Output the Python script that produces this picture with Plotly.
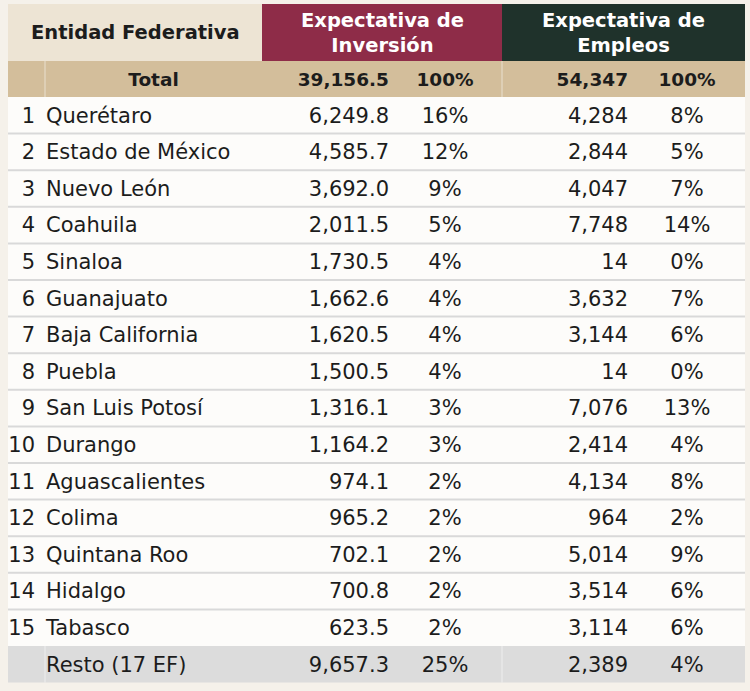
import plotly.graph_objects as go

# ---------------- data ----------------
ranks = list(range(1, 16))
states = ["Querétaro", "Estado de México", "Nuevo León", "Coahuila", "Sinaloa",
          "Guanajuato", "Baja California", "Puebla", "San Luis Potosí", "Durango",
          "Aguascalientes", "Colima", "Quintana Roo", "Hidalgo", "Tabasco"]
inversion = [6249.8, 4585.7, 3692.0, 2011.5, 1730.5, 1662.6, 1620.5, 1500.5,
             1316.1, 1164.2, 974.1, 965.2, 702.1, 700.8, 623.5]
inv_pct = [16, 12, 9, 5, 4, 4, 4, 4, 3, 3, 2, 2, 2, 2, 2]
empleos = [4284, 2844, 4047, 7748, 14, 3632, 3144, 14, 7076, 2414,
           4134, 964, 5014, 3514, 3114]
emp_pct = [8, 5, 7, 14, 0, 7, 6, 0, 13, 4, 8, 2, 9, 6, 6]

total_label = "Total"
total_inv, total_inv_pct = 39156.5, 100
total_emp, total_emp_pct = 54347, 100
resto_label = "Resto (17 EF)"
resto_inv, resto_inv_pct = 9657.3, 25
resto_emp, resto_emp_pct = 2389, 4

header_entity = "Entidad Federativa"
header_inv = "Expectativa de<br>Inversión"
header_emp = "Expectativa de<br>Empleos"

# ---------------- layout constants ----------------
W, H = 750, 691
X0, X_SPLIT, X_INV, X_EMP, X1 = 8, 45, 262, 502, 745
Y_HEAD0, Y_TOT0, Y_ROW0 = 4, 61, 97
ROW_H = 36.6
TXT_DY = 2.0
X_RANK_R, X_NAME_L = 35, 46
X_INV_R, X_INVP_C = 389, 445
X_EMP_R, X_EMPP_C = 628, 687

FONT = "DejaVu Sans"
FS = 21
TFS = 18.5
HFS = 19.5
TXT = "#1c1c1c"

C_HEAD = "#ede4d4"
C_TOTAL = "#d3be9b"
C_INV = "#8e2c48"
C_EMP = "#1f322b"
C_RESTO = "#dcdcdc"
C_ROW = "rgba(255,255,255,0.75)"
C_LINE = "#d9d9d9"

n = len(states)
row_center = [Y_ROW0 + ROW_H * (i + 0.5) + TXT_DY for i in range(n)]
resto_top = Y_ROW0 + ROW_H * n
resto_center = resto_top + ROW_H / 2 + TXT_DY
tot_center = (Y_TOT0 + Y_ROW0) / 2 + TXT_DY

shapes = []
def rect(x0, y0, x1, y1, color):
    shapes.append(dict(type="rect", xref="x", yref="y", x0=x0, x1=x1, y0=y0, y1=y1,
                       fillcolor=color, line=dict(width=0), layer="below"))

rect(X0, Y_HEAD0, X_INV, Y_TOT0, C_HEAD)
rect(X_INV, Y_HEAD0, X_EMP, Y_TOT0, C_INV)
rect(X_EMP, Y_HEAD0, X1, Y_TOT0, C_EMP)
rect(X0, Y_TOT0, X1, Y_ROW0, C_TOTAL)
rect(X0, Y_ROW0, X1, resto_top, C_ROW)
rect(X0, resto_top, X1, resto_top + ROW_H, C_RESTO)

for xv in [X_SPLIT, X_EMP]:
    shapes.append(dict(type="line", xref="x", yref="y", x0=xv, x1=xv, y0=Y_TOT0, y1=Y_ROW0,
                       line=dict(color="rgba(255,255,255,0.35)", width=1.5), layer="below"))
    shapes.append(dict(type="line", xref="x", yref="y", x0=xv, x1=xv, y0=resto_top,
                       y1=resto_top + ROW_H,
                       line=dict(color="rgba(255,255,255,0.35)", width=1.5), layer="below"))

for i in range(1, n):
    y = Y_ROW0 + ROW_H * i
    shapes.append(dict(type="line", xref="x", yref="y", x0=X0, x1=X1, y0=y, y1=y,
                       line=dict(color=C_LINE, width=2), layer="below"))

fig = go.Figure()

def text_trace(xs, ys, texts, pos, bold=False, color=TXT, size=FS):
    if bold:
        texts = [f"<b>{t}</b>" for t in texts]
    fig.add_trace(go.Scatter(x=xs, y=ys, text=texts, mode="text", textposition=pos,
                             textfont=dict(family=FONT, size=size, color=color),
                             hoverinfo="skip", showlegend=False, cliponaxis=False))

# body rows
text_trace([X_RANK_R] * n, row_center, [str(r) for r in ranks], "middle left")
text_trace([X_NAME_L] * n, row_center, states, "middle right")
text_trace([X_INV_R] * n, row_center, [f"{v:,.1f}" for v in inversion], "middle left")
text_trace([X_INVP_C] * n, row_center, [f"{v}%" for v in inv_pct], "middle center")
text_trace([X_EMP_R] * n, row_center, [f"{v:,}" for v in empleos], "middle left")
text_trace([X_EMPP_C] * n, row_center, [f"{v}%" for v in emp_pct], "middle center")

# total row
text_trace([(X_SPLIT + X_INV) / 2], [tot_center], [total_label], "middle center", bold=True, size=TFS)
text_trace([X_INV_R], [tot_center], [f"{total_inv:,.1f}"], "middle left", bold=True, size=TFS)
text_trace([X_INVP_C], [tot_center], [f"{total_inv_pct}%"], "middle center", bold=True, size=TFS)
text_trace([X_EMP_R], [tot_center], [f"{total_emp:,}"], "middle left", bold=True, size=TFS)
text_trace([X_EMPP_C], [tot_center], [f"{total_emp_pct}%"], "middle center", bold=True, size=TFS)

# resto row
text_trace([X_NAME_L], [resto_center], [resto_label], "middle right")
text_trace([X_INV_R], [resto_center], [f"{resto_inv:,.1f}"], "middle left")
text_trace([X_INVP_C], [resto_center], [f"{resto_inv_pct}%"], "middle center")
text_trace([X_EMP_R], [resto_center], [f"{resto_emp:,}"], "middle left")
text_trace([X_EMPP_C], [resto_center], [f"{resto_emp_pct}%"], "middle center")

head_c = (Y_HEAD0 + Y_TOT0) / 2
annotations = [
    dict(x=(X0 + X_INV) / 2, y=head_c, text=f"<b>{header_entity}</b>", showarrow=False,
         xref="x", yref="y", font=dict(family=FONT, size=HFS, color=TXT)),
    dict(x=(X_INV + X_EMP) / 2, y=head_c, text=f"<b>{header_inv}</b>", showarrow=False,
         xref="x", yref="y", font=dict(family=FONT, size=HFS, color="white"), align="center"),
    dict(x=(X_EMP + X1) / 2, y=head_c, text=f"<b>{header_emp}</b>", showarrow=False,
         xref="x", yref="y", font=dict(family=FONT, size=HFS, color="white"), align="center"),
]

fig.update_layout(
    width=W, height=H, margin=dict(l=0, r=0, t=0, b=0),
    paper_bgcolor="#f5f1ea", plot_bgcolor="rgba(0,0,0,0)",
    xaxis=dict(range=[0, W], visible=False, fixedrange=True),
    yaxis=dict(range=[H, 0], visible=False, fixedrange=True),
    shapes=shapes, annotations=annotations,
)

fig.write_html(
    "out.html",
    config={"displayModeBar": False},
    post_script="document.body.style.margin='0';document.body.style.overflow='hidden';",
)
